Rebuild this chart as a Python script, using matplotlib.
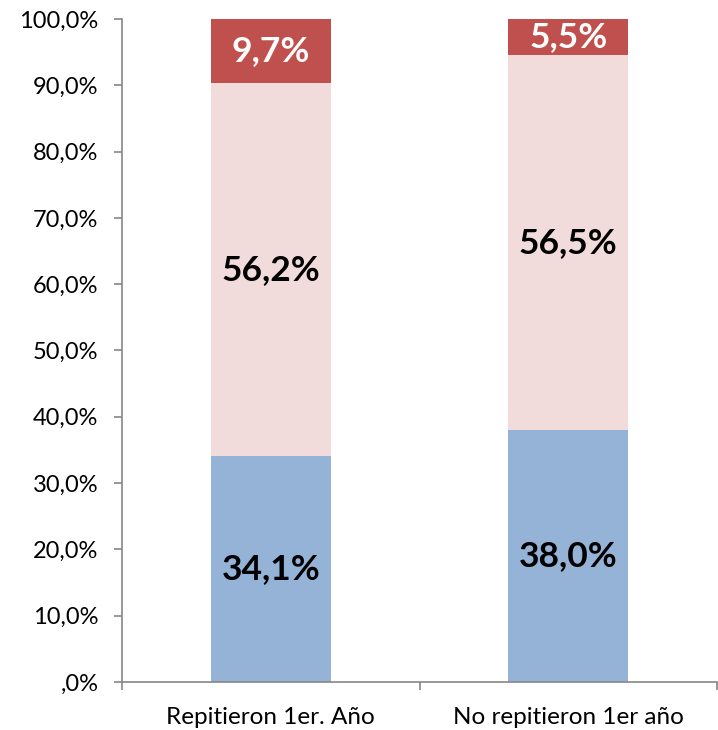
import numpy as np
import matplotlib
matplotlib.use("Agg")
import matplotlib.pyplot as plt
from matplotlib.ticker import FixedLocator

categories = ["Repitieron 1er. Año", "No repitieron 1er año"]
blue_vals = [34.1, 38.0]
pink_vals = [56.2, 56.5]
red_vals = [9.7, 5.5]
blue_labels = ["34,1%", "38,0%"]
pink_labels = ["56,2%", "56,5%"]
red_labels = ["9,7%", "5,5%"]
yticks = [0, 10, 20, 30, 40, 50, 60, 70, 80, 90, 100]
ytick_labels = [",0%", "10,0%", "20,0%", "30,0%", "40,0%", "50,0%",
                "60,0%", "70,0%", "80,0%", "90,0%", "100,0%"]

COLOR_BLUE = "#95B3D7"
COLOR_PINK = "#F2DCDB"
COLOR_RED = "#C0504D"
AXIS_GRAY = "#868686"

plt.rcParams["font.family"] = ["Lato", "DejaVu Sans"]

fig = plt.figure(figsize=(7.18, 7.30), dpi=100)
ax = fig.add_axes([0.170, 0.0658, 0.8286, 0.9082])

x = np.arange(len(categories))
w = 0.403
blue = np.array(blue_vals)
pink = np.array(pink_vals)
red = np.array(red_vals)

ax.bar(x, blue, w, color=COLOR_BLUE)
ax.bar(x, pink, w, bottom=blue, color=COLOR_PINK)
ax.bar(x, red, w, bottom=blue + pink, color=COLOR_RED)

for i in range(len(categories)):
    ax.text(x[i], blue[i] / 2, blue_labels[i], ha="center", va="center",
            fontsize=25.5, fontweight="bold", color="black")
    ax.text(x[i], blue[i] + pink[i] / 2, pink_labels[i], ha="center", va="center",
            fontsize=25.5, fontweight="bold", color="black")
    ax.text(x[i], blue[i] + pink[i] + red[i] / 2, red_labels[i], ha="center",
            va="center", fontsize=25.5, fontweight="bold", color="white")

ax.set_xlim(-0.5, 1.5)
ax.set_ylim(0, 100)
ax.set_yticks(yticks)
ax.set_yticklabels(ytick_labels)
ax.set_xticks(x)
ax.set_xticklabels(categories)
ax.xaxis.set_minor_locator(FixedLocator([-0.5, 0.5, 1.5]))

for side in ["top", "right"]:
    ax.spines[side].set_visible(False)
for side in ["left", "bottom"]:
    ax.spines[side].set_color(AXIS_GRAY)
    ax.spines[side].set_linewidth(1.2)

ax.tick_params(axis="y", length=6, width=1.2, color=AXIS_GRAY, pad=11,
               labelsize=17)
ax.tick_params(axis="x", which="major", length=0, pad=18, labelsize=17.5)
ax.tick_params(axis="x", which="minor", length=6, width=1.2, color=AXIS_GRAY)

fig.savefig("out.png", dpi=100)
